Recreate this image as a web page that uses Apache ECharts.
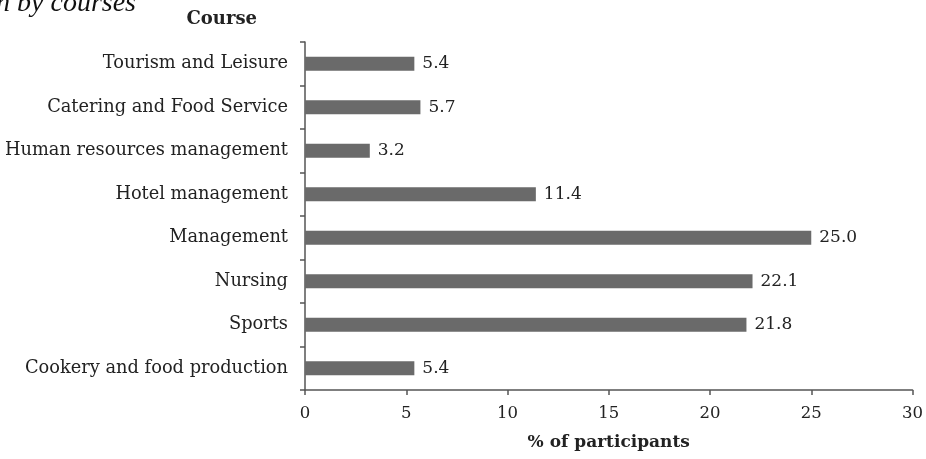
<!DOCTYPE html>
<html><head><meta charset="utf-8">
<script src="https://cdn.jsdelivr.net/npm/echarts@6/dist/echarts.min.js"></script>
<style>html,body{margin:0;padding:0;background:#fff}#c{width:926px;height:459px}</style>
</head><body><div id="c"></div>
<script>
const categories = ['Tourism and Leisure','Catering and Food Service','Human resources management','Hotel management','Management','Nursing','Sports','Cookery and food production'];
const values = [5.4, 5.7, 3.2, 11.4, 25.0, 22.1, 21.8, 5.4];
const xTicks = [0, 5, 10, 15, 20, 25, 30];
const FONT = 'DejaVu Serif';
const chart = echarts.init(document.getElementById('c'));
chart.setOption({
  animation: false,
  backgroundColor: '#fff',
  graphic: [{
    type: 'text', x: 136, y: 18,
    style: { text: 'Distribution by courses', font: 'italic 28px "Liberation Serif"', fill: '#111', align: 'right', verticalAlign: 'bottom' }
  }],
  grid: { left: 305, right: 13, top: 42, bottom: 69 },
  xAxis: {
    type: 'value', min: xTicks[0], max: xTicks[xTicks.length-1], interval: 5,
    splitLine: { show: false },
    axisLine: { show: true, lineStyle: { color: '#555', width: 1.5 } },
    axisTick: { show: true, length: 5, lineStyle: { color: '#555', width: 1.5 } },
    axisLabel: { color: '#222', fontFamily: FONT, fontSize: 16.5, margin: 15 },
    name: '% of participants', nameLocation: 'middle', nameGap: 44,
    nameTextStyle: { color: '#222', fontFamily: FONT, fontSize: 17, fontWeight: 'bold' }
  },
  yAxis: {
    type: 'category', data: categories, inverse: true,
    axisLine: { show: true, lineStyle: { color: '#555', width: 1.5 } },
    axisTick: { show: true, length: 5, alignWithLabel: false, lineStyle: { color: '#555', width: 1.5 } },
    axisLabel: { color: '#222', fontFamily: FONT, fontSize: 17.8, margin: 17 },
    name: 'Course', nameLocation: 'start', nameGap: 14,
    nameTextStyle: { color: '#222', fontFamily: FONT, fontSize: 18, fontWeight: 'bold', align: 'right', padding: [0, 48, 0, 0] }
  },
  series: [{
    type: 'bar', data: values, barWidth: 14,
    itemStyle: { color: '#6a6a6a' },
    label: { show: true, position: 'right', distance: 8, color: '#222', fontFamily: FONT, fontSize: 17,
      formatter: p => p.value.toFixed(1) }
  }]
});
</script></body></html>
